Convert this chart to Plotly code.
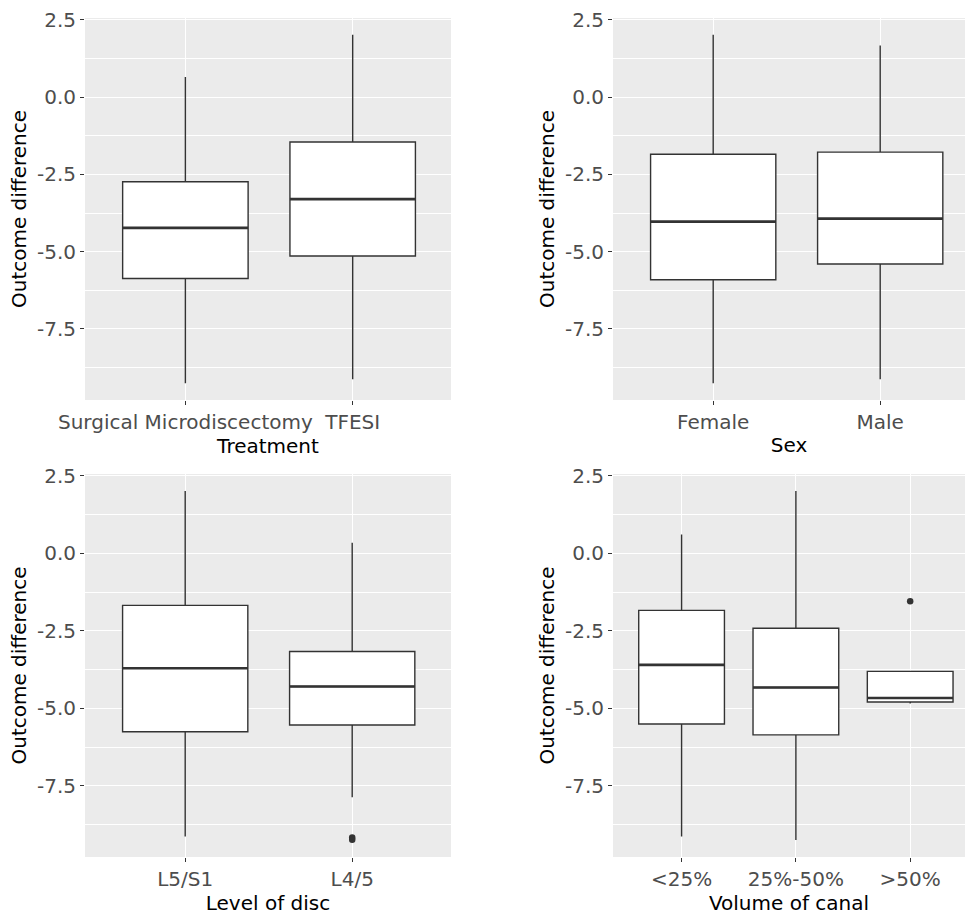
import plotly.graph_objects as go

# ---- data: five-number summaries per group ----
treatment_labels = ["Surgical Microdiscectomy", "TFESI"]
treatment_low = [-9.26, -9.13]
treatment_q1 = [-5.87, -5.14]
treatment_median = [-4.23, -3.30]
treatment_q3 = [-2.74, -1.45]
treatment_high = [0.65, 2.02]
treatment_outliers = [[], []]

sex_labels = ["Female", "Male"]
sex_low = [-9.26, -9.13]
sex_q1 = [-5.91, -5.40]
sex_median = [-4.03, -3.93]
sex_q3 = [-1.85, -1.78]
sex_high = [2.02, 1.67]
sex_outliers = [[], []]

disc_labels = ["L5/S1", "L4/5"]
disc_low = [-9.14, -7.87]
disc_q1 = [-5.76, -5.54]
disc_median = [-3.71, -4.30]
disc_q3 = [-1.68, -3.17]
disc_high = [2.01, 0.34]
disc_outliers = [[], [-9.17, -9.24]]

canal_labels = ["<25%", "25%-50%", ">50%"]
canal_low = [-9.14, -9.25, -4.85]
canal_q1 = [-5.51, -5.86, -4.80]
canal_median = [-3.60, -4.33, -4.67]
canal_q3 = [-1.84, -2.42, -3.81]
canal_high = [0.61, 2.01, -3.81]
canal_outliers = [[], [], [-1.55]]

y_ticks = [2.5, 0.0, -2.5, -5.0, -7.5]
y_ticktext = ["2.5", "0.0", "-2.5", "-5.0", "-7.5"]
y_minor = [1.25, -1.25, -3.75, -6.25, -8.75]

# ---- styling ----
W, H = 965, 915
FONT = "DejaVu Sans"
BOX_LINE = "#333333"
BOX_WIDTH = 0.75

panels = [
    dict(labels=treatment_labels, low=treatment_low, q1=treatment_q1, med=treatment_median,
         q3=treatment_q3, high=treatment_high, out=treatment_outliers, title="Treatment"),
    dict(labels=sex_labels, low=sex_low, q1=sex_q1, med=sex_median,
         q3=sex_q3, high=sex_high, out=sex_outliers, title="Sex"),
    dict(labels=disc_labels, low=disc_low, q1=disc_q1, med=disc_median,
         q3=disc_q3, high=disc_high, out=disc_outliers, title="Level of disc"),
    dict(labels=canal_labels, low=canal_low, q1=canal_q1, med=canal_median,
         q3=canal_q3, high=canal_high, out=canal_outliers, title="Volume of canal"),
]

# panel rectangles in pixels: (left, right), (top, bottom); right column runs off the page
left_col = (85, 451)
right_col = (613, 965)
top_row = (18, 400)
bottom_row = (474, 857)
rects = [
    (left_col, top_row),
    (right_col, top_row),
    (left_col, bottom_row),
    (right_col, bottom_row),
]
# pixel spacing between categories in each panel
cat_spacing = [167.3, 167.0, 167.0, 114.3]

fig = go.Figure()
layout = dict(
    width=W, height=H,
    margin=dict(l=0, r=0, t=0, b=0),
    paper_bgcolor="white",
    plot_bgcolor="#EBEBEB",
    showlegend=False,
    font=dict(family=FONT, size=20, color="#4D4D4D"),
)

for i, p in enumerate(panels):
    n = len(p["labels"])
    pos = list(range(1, n + 1))
    sfx = "" if i == 0 else str(i + 1)
    xa, ya = "x" + sfx, "y" + sfx
    (x0, x1), (y0, y1) = rects[i]

    fig.add_trace(go.Box(
        x=pos, q1=p["q1"], median=p["med"], q3=p["q3"],
        lowerfence=p["low"], upperfence=p["high"],
        width=BOX_WIDTH, whiskerwidth=0, boxpoints=False,
        fillcolor="white", line=dict(color=BOX_LINE, width=1.4),
        hoverinfo="skip", xaxis=xa, yaxis=ya,
    ))

    # thicker median bars
    mx, my = [], []
    for c, m in zip(pos, p["med"]):
        mx += [c - BOX_WIDTH / 2, c + BOX_WIDTH / 2, None]
        my += [m, m, None]
    fig.add_trace(go.Scatter(x=mx, y=my, mode="lines",
                             line=dict(color=BOX_LINE, width=2.6),
                             hoverinfo="skip", xaxis=xa, yaxis=ya))

    # outlying points
    ox, oy = [], []
    for c, vals in zip(pos, p["out"]):
        for v in vals:
            ox.append(c)
            oy.append(v)
    if ox:
        fig.add_trace(go.Scatter(x=ox, y=oy, mode="markers",
                                 marker=dict(color=BOX_LINE, size=6.5),
                                 hoverinfo="skip", xaxis=xa, yaxis=ya))

    # discrete axis: 0.6 units of padding before the first category
    x_end = 0.4 + (x1 - x0) / cat_spacing[i]

    layout["xaxis" + sfx] = dict(
        domain=[x0 / W, x1 / W], anchor=ya, automargin=False,
        range=[0.4, x_end],
        tickmode="array", tickvals=pos, ticktext=p["labels"], tickangle=0,
        showgrid=True, gridcolor="white", gridwidth=1.2,
        zeroline=False, showline=False,
        ticks="outside", ticklen=4, tickwidth=1.1, tickcolor="#333333",
        tickfont=dict(family=FONT, size=20, color="#4D4D4D"),
        title=dict(text=p["title"], font=dict(family=FONT, size=20, color="black"),
                   standoff=4),
        fixedrange=True,
    )
    layout["yaxis" + sfx] = dict(
        domain=[1 - y1 / H, 1 - y0 / H], anchor=xa, automargin=False,
        range=[-9.8, 2.56],
        tickmode="array", tickvals=y_ticks, ticktext=y_ticktext,
        showgrid=True, gridcolor="white", gridwidth=1.2,
        minor=dict(tickvals=y_minor, showgrid=True, gridcolor="white",
                   gridwidth=0.6, ticks=""),
        zeroline=False, showline=False,
        ticks="outside", ticklen=4, tickwidth=1.1, tickcolor="#333333",
        tickfont=dict(family=FONT, size=20, color="#4D4D4D"),
        title=dict(text="Outcome difference",
                   font=dict(family=FONT, size=20, color="black"), standoff=4),
        fixedrange=True,
    )

fig.update_layout(**layout)
fig.write_html("out.html")
